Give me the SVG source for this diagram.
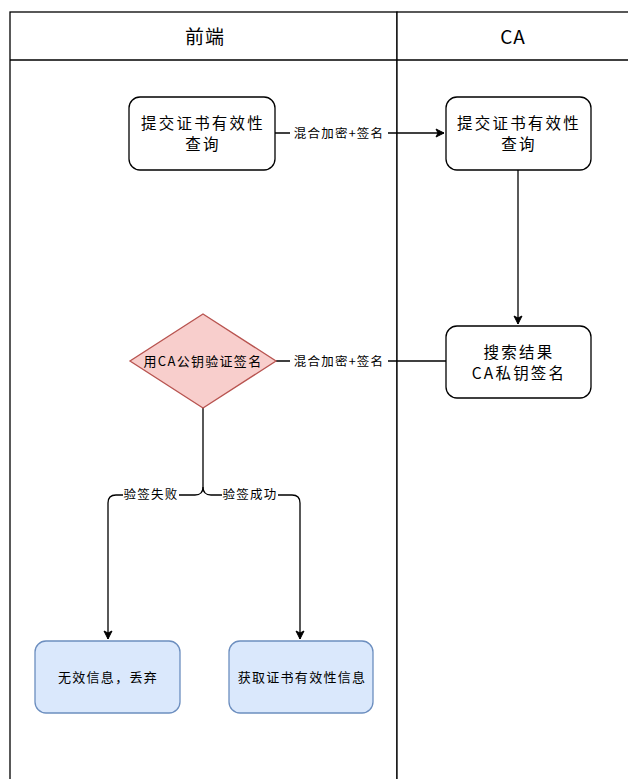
<svg xmlns="http://www.w3.org/2000/svg" width="628" height="779" viewBox="0 0 628 779">
<style>
text{font-family:"Noto Sans CJK SC","Liberation Sans",sans-serif;fill:#000;text-anchor:middle}
.lane{fill:#fff;stroke:#000;stroke-width:1.3}
.box{fill:#fff;stroke:#000;stroke-width:1.3}
.blue{fill:#dae8fc;stroke:#6c8ebf;stroke-width:1.3}
.dia{fill:#f8cecc;stroke:#b85450;stroke-width:1.3}
.t16{font-size:15.5px;letter-spacing:2.2px}
.t13{font-size:13px;letter-spacing:1.3px}
.t12{font-size:12.5px;letter-spacing:1.2px}
.t19{font-size:19px;letter-spacing:1px}
.edge{fill:none;stroke:#000;stroke-width:1.3}
.lbl{fill:#fff;stroke:none}
</style>
<defs>
<marker id="arr" markerWidth="10" markerHeight="10" refX="9" refY="5" orient="auto" markerUnits="userSpaceOnUse">
<path d="M1,1 L9,5 L1,9 L3,5 Z" fill="#000" stroke="#000" stroke-width="1"/>
</marker>
</defs>
<g id="lanes">
<rect class="lane" x="10" y="12" width="387" height="780"/>
<rect class="lane" x="397" y="12" width="240" height="780"/>
<line x1="10" y1="60" x2="640" y2="60" stroke="#000" stroke-width="1.3"/>
<text class="t19" x="205" y="44">前端</text>
<text class="t19" x="513" y="44">CA</text>
</g>
<g id="connectors">
<path class="edge" d="M275,133 H444" marker-end="url(#arr)"/>
<rect class="lbl" x="290" y="124" width="98" height="18"/>
<text class="t12" x="339" y="138">混合加密+签名</text>
<path class="edge" d="M518,170 V324" marker-end="url(#arr)"/>
<path class="edge" d="M446,361 H276"/>
<rect class="lbl" x="290" y="352" width="98" height="18"/>
<text class="t12" x="339" y="366">混合加密+签名</text>
<path class="edge" d="M203,408 V487 Q203,495 195,495 H116 Q108,495 108,503 V639" marker-end="url(#arr)"/>
<path class="edge" d="M203,487 Q203,495 211,495 H292 Q300,495 300,503 V639" marker-end="url(#arr)"/>
<rect class="lbl" x="123" y="486" width="56" height="18"/>
<text class="t12" x="151" y="499">验签失败</text>
<rect class="lbl" x="222" y="486" width="56" height="18"/>
<text class="t12" x="250" y="499">验签成功</text>
</g>
<g id="node-submit">
<rect class="box" x="129" y="97" width="146" height="73" rx="11"/>
<text class="t16" x="203" y="129">提交证书有效性</text>
<text class="t16" x="203" y="150">查询</text>
</g>
<g id="node-ca-submit">
<rect class="box" x="446" y="97" width="145" height="73" rx="11"/>
<text class="t16" x="519" y="129">提交证书有效性</text>
<text class="t16" x="519" y="150">查询</text>
</g>
<g id="node-search">
<rect class="box" x="446" y="326" width="145" height="72" rx="11"/>
<text class="t16" x="519" y="358">搜索结果</text>
<text class="t16" x="519" y="379">CA私钥签名</text>
</g>
<g id="node-verify">
<polygon class="dia" points="203,314 276,361 203,408 130,361"/>
<text class="t13" x="203" y="366">用CA公钥验证签名</text>
</g>
<g id="node-invalid">
<rect class="blue" x="35" y="641" width="145" height="72" rx="11"/>
<text class="t13" x="108" y="682">无效信息，丢弃</text>
</g>
<g id="node-valid">
<rect class="blue" x="229" y="641" width="144" height="72" rx="11"/>
<text class="t13" x="302" y="682">获取证书有效性信息</text>
</g>
</svg>
